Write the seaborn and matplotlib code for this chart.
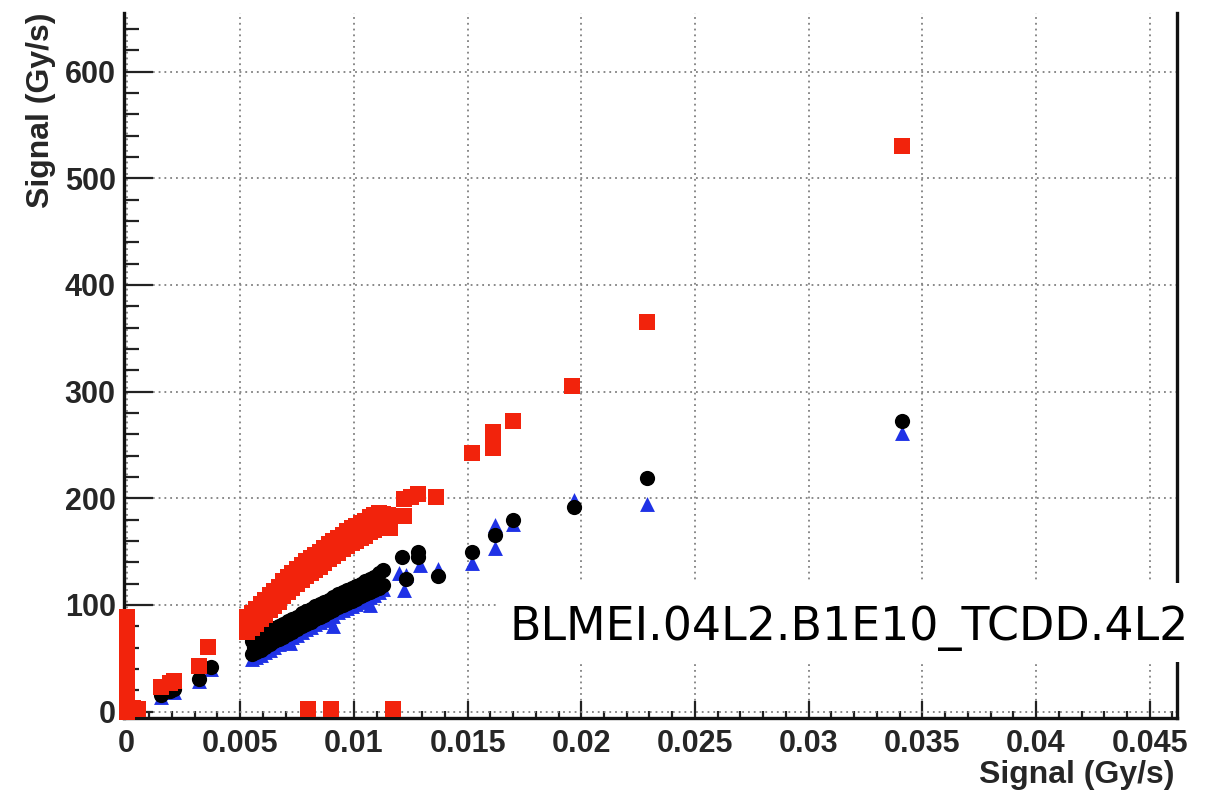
import matplotlib
matplotlib.use("Agg")
import matplotlib.pyplot as plt
import seaborn as sns
import pandas as pd
from matplotlib.patches import Rectangle
from matplotlib.ticker import FixedLocator, MultipleLocator

# ---------------- data ----------------
# red squares: x = 0 column, isolated points and the upper dense band
red_x = [0, 0, 0, 0, 0, 0, 0, 0, 0, 0, 0, 0, 0, 0, 0, 0, 0, 0.0003, 0.0005,
         0.0015, 0.0019, 0.0021, 0.0032, 0.0036,
         0.0122, 0.0122, 0.0125, 0.0128, 0.0136,
         0.0152, 0.0161, 0.0161, 0.0170, 0.0196, 0.0229, 0.0341,
         0.0080, 0.0090, 0.0117]
red_y = [0, 3, 6, 10, 15, 20, 25, 30, 36, 42, 48, 55, 62, 70, 78, 85, 89, 3, 2,
         23, 27, 29, 43, 61,
         183, 199, 201, 204, 201,
         242, 247, 262, 272, 305, 365, 530,
         2, 2, 2]
red_band_x = [0.0053, 0.0053, 0.0054, 0.0055, 0.0055, 0.0056, 0.0057, 0.0057, 0.0058,
              0.0059, 0.0059, 0.0060, 0.0061, 0.0061, 0.0062, 0.0063, 0.0063, 0.0064,
              0.0065, 0.0065, 0.0066, 0.0067, 0.0067, 0.0068, 0.0069, 0.0069, 0.0070,
              0.0071, 0.0071, 0.0072, 0.0073, 0.0073, 0.0074, 0.0075, 0.0075, 0.0076,
              0.0077, 0.0077, 0.0078, 0.0079, 0.0079, 0.0080, 0.0081, 0.0081, 0.0082,
              0.0083, 0.0083, 0.0084, 0.0085, 0.0085, 0.0086, 0.0087, 0.0087, 0.0088,
              0.0089, 0.0089, 0.0090, 0.0091, 0.0091, 0.0092, 0.0093, 0.0093, 0.0094,
              0.0095, 0.0095, 0.0096, 0.0097, 0.0097, 0.0098, 0.0099, 0.0099, 0.0100,
              0.0101, 0.0101, 0.0102, 0.0103, 0.0103, 0.0104, 0.0105, 0.0105, 0.0106,
              0.0107, 0.0107, 0.0108, 0.0109, 0.0109, 0.0110, 0.0111, 0.0111, 0.0112,
              0.0113, 0.0113, 0.0115, 0.0115, 0.0116]
red_band_y = [75, 89, 83, 78, 92, 86, 82, 96, 90,
              87, 101, 95, 91, 105, 99, 95, 109, 103,
              99, 113, 107, 103, 117, 111, 108, 122, 116,
              112, 126, 120, 116, 130, 124, 120, 134, 128,
              123, 137, 131, 127, 141, 135, 130, 144, 138,
              133, 147, 141, 136, 150, 144, 139, 153, 147,
              143, 157, 151, 146, 160, 154, 149, 163, 157,
              152, 166, 160, 155, 169, 163, 158, 172, 166,
              160, 174, 168, 163, 177, 171, 165, 179, 173,
              168, 182, 176, 170, 184, 178, 172, 186, 180,
              174, 185, 176, 184, 172]

# black circles
black_x = [0.0015, 0.0019, 0.0021, 0.0032, 0.0037,
           0.0121, 0.0123, 0.0128, 0.0128, 0.0137, 0.0152, 0.0162, 0.0170, 0.0197,
           0.0229, 0.0341]
black_y = [16, 19, 21, 31, 42,
           145, 124, 150, 145, 127, 150, 166, 180, 192,
           219, 272]
black_band_x = [0.0055, 0.0055, 0.0056, 0.0057, 0.0057, 0.0058, 0.0059, 0.0059, 0.0060,
                0.0061, 0.0061, 0.0062, 0.0063, 0.0063, 0.0064, 0.0065, 0.0065, 0.0066,
                0.0067, 0.0067, 0.0068, 0.0069, 0.0069, 0.0070, 0.0071, 0.0071, 0.0072,
                0.0073, 0.0073, 0.0074, 0.0075, 0.0075, 0.0076, 0.0077, 0.0077, 0.0078,
                0.0079, 0.0079, 0.0080, 0.0081, 0.0081, 0.0082, 0.0083, 0.0083, 0.0084,
                0.0085, 0.0085, 0.0086, 0.0087, 0.0087, 0.0088, 0.0089, 0.0089, 0.0090,
                0.0091, 0.0091, 0.0092, 0.0093, 0.0093, 0.0094, 0.0095, 0.0095, 0.0096,
                0.0097, 0.0097, 0.0098, 0.0099, 0.0099, 0.0100, 0.0101, 0.0101, 0.0102,
                0.0103, 0.0103, 0.0104, 0.0105, 0.0105, 0.0106, 0.0107, 0.0107, 0.0108,
                0.0109, 0.0109, 0.0110, 0.0111, 0.0111, 0.0113, 0.0113]
black_band_y = [54, 66, 61, 56, 68, 63, 58, 70, 65,
                61, 73, 68, 63, 75, 70, 66, 78, 73,
                68, 80, 75, 70, 82, 77, 73, 85, 80,
                75, 87, 82, 77, 89, 84, 80, 92, 87,
                82, 94, 89, 84, 96, 91, 87, 99, 94,
                89, 101, 96, 91, 103, 98, 93, 105, 100,
                95, 107, 102, 98, 110, 105, 100, 112, 107,
                102, 114, 109, 104, 116, 111, 106, 118, 113,
                108, 120, 115, 110, 122, 117, 112, 124, 119,
                114, 126, 121, 116, 130, 119, 133]

# blue triangles
blue_x = [0.0015, 0.0021, 0.0032, 0.0037,
          0.0072, 0.0091, 0.0107,
          0.0120, 0.0122, 0.0123, 0.0129, 0.0137, 0.0152, 0.0162, 0.0162, 0.0170,
          0.0197, 0.0229, 0.0341]
blue_y = [14, 18, 29, 40,
          64, 80, 100,
          130, 114, 128, 137, 134, 139, 153, 175, 176,
          198, 195, 261]
blue_band_x = [0.0055, 0.0057, 0.0059, 0.0061, 0.0063, 0.0065, 0.0067, 0.0069, 0.0071,
               0.0073, 0.0075, 0.0077, 0.0079, 0.0081, 0.0083, 0.0085, 0.0087, 0.0089,
               0.0091, 0.0093, 0.0095, 0.0097, 0.0099, 0.0101, 0.0103, 0.0105, 0.0107,
               0.0109, 0.0111, 0.0113]
blue_band_y = [49, 51, 53, 56, 58, 61, 63, 65, 68,
               70, 72, 75, 77, 79, 82, 84, 86, 88,
               90, 93, 95, 97, 99, 101, 103, 105, 107,
               109, 112, 115]

x_ticks = [0, 0.005, 0.01, 0.015, 0.02, 0.025, 0.03, 0.035, 0.04, 0.045]
x_tick_labels = ["0", "0.005", "0.01", "0.015", "0.02", "0.025", "0.03", "0.035", "0.04", "0.045"]
y_ticks = [0, 100, 200, 300, 400, 500, 600]
y_tick_labels = ["0", "100", "200", "300", "400", "500", "600"]
x_title = "Signal (Gy/s)"
y_title = "Signal (Gy/s)"
annotation = "BLMEI.04L2.B1E10_TCDD.4L2"

# ---------------- figure ----------------
sns.set_style("ticks")
plt.rcParams["font.family"] = ["Liberation Sans", "DejaVu Sans"]

W, H = 1222, 795
fig = plt.figure(figsize=(W / 100, H / 100), dpi=100)
fig.patch.set_facecolor("white")
ax = fig.add_axes([124 / W, 1 - 718 / H, (1177 - 124) / W, (718 - 13) / H])

df_blue = pd.DataFrame({"x": blue_band_x + blue_x, "y": blue_band_y + blue_y})
df_black = pd.DataFrame({"x": black_band_x + black_x, "y": black_band_y + black_y})
df_red = pd.DataFrame({"x": red_band_x + red_x, "y": red_band_y + red_y})

sns.scatterplot(data=df_blue, x="x", y="y", marker="^", s=115, color="#1f32e6",
                linewidth=0, ax=ax, legend=False, zorder=3, clip_on=False)
sns.scatterplot(data=df_black, x="x", y="y", marker="o", s=120, color="#000000",
                linewidth=0, ax=ax, legend=False, zorder=4, clip_on=False)
sns.scatterplot(data=df_red, x="x", y="y", marker="s", s=125, color="#f2230c",
                linewidth=0, ax=ax, legend=False, zorder=5, clip_on=False)

ax.set_xlim(-0.00011, 0.0462)
ax.set_ylim(-6, 655)

ax.xaxis.set_major_locator(FixedLocator(x_ticks))
ax.set_xticklabels(x_tick_labels, fontweight="bold", fontsize=22)
ax.xaxis.set_minor_locator(MultipleLocator(0.001))
ax.yaxis.set_major_locator(FixedLocator(y_ticks))
ax.set_yticklabels(y_tick_labels, fontweight="bold", fontsize=22)
ax.yaxis.set_minor_locator(MultipleLocator(20))

ax.tick_params(axis="y", which="major", direction="in", length=21, width=1.6, pad=6, color="#222222")
ax.tick_params(axis="y", which="minor", direction="in", length=10.5, width=1.6, color="#222222")
ax.tick_params(axis="x", which="major", direction="in", length=12, width=1.6, pad=8, color="#222222")
ax.tick_params(axis="x", which="minor", direction="in", length=5, width=1.6, color="#222222")

for side in ["left", "bottom", "right"]:
    ax.spines[side].set_linewidth(2.4)
    ax.spines[side].set_color("#111111")
ax.spines["top"].set_visible(False)

ax.set_axisbelow(True)
ax.grid(True, which="major", color="#808080", linestyle=(0, (1, 2.2)), linewidth=1.3)

ax.set_xlabel(x_title, fontweight="bold", fontsize=23, loc="right")
ax.xaxis.set_label_coords(0.998, -0.081)
ax.xaxis.label.set_va("center")
ax.set_ylabel(y_title, fontweight="bold", fontsize=23, loc="top")
ax.yaxis.set_label_coords(-0.079, 1.0)
ax.yaxis.label.set_va("center")

# white box behind the annotation
fig.patches.append(Rectangle((497 / W, 1 - 662 / H), (W - 497) / W, 79 / H,
                             transform=fig.transFigure, facecolor="white",
                             edgecolor="none", zorder=6))
fig.text(510 / W, 1 - 640 / H, annotation, family=["DejaVu Sans"], fontsize=33,
         fontweight="normal", ha="left", va="baseline", color="black", zorder=7)

fig.savefig("out.png", dpi=100, facecolor="white")
